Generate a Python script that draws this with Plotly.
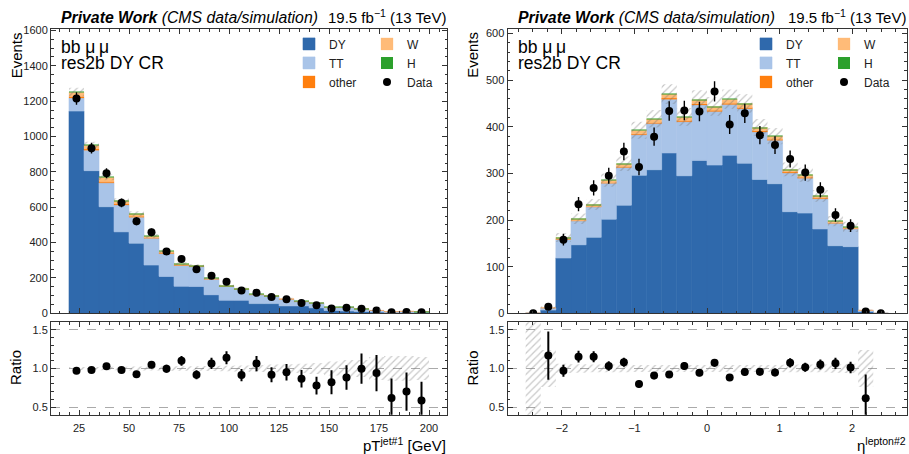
import numpy as np
import plotly.graph_objects as go

# ---------------- data: left panel (pT of leading jet) ----------------
pt_edges = [20, 27.5, 35, 42.5, 50, 57.5, 65, 72.5, 80, 87.5, 95, 102.5, 110,
            117.5, 125, 132.5, 140, 147.5, 155, 162.5, 170, 177.5, 185, 192.5, 200]
pt_DY = [1144, 807, 603, 461, 397, 273, 209, 153, 152, 105, 74, 74, 55, 55, 42, 42,
         31, 16, 13, 11, 7, 4.5, 5, 4.5]
pt_TT = [74, 116, 135, 152, 147, 152, 129, 118, 112, 88, 78, 62, 50, 42, 38, 24,
         26, 17, 20, 14, 9, 4.8, 6, 5.3]
pt_other = [8, 7, 8, 6, 5, 3, 3, 2, 2, 2, 1, 1, 1, 1, 1, 0.5, 0.5, 0.3, 0.3, 0.3,
            0.2, 0.1, 0.1, 0.1]
pt_W = [25, 21, 24, 18, 14, 9, 10, 7, 5, 4, 4, 4, 3, 2, 2, 1.5, 1.5, 0.7, 1.7, 0.7,
        0.8, 0.3, 0.3, 0.3]
pt_H = [0.3, 0.3, 0.3, 0.3, 0.3, 0.2, 0.2, 0.2, 0.1, 0.1, 0.1, 0.1, 0.1, 0.1, 0.05,
        0.05, 0.05, 0.05, 0.05, 0.05, 0.02, 0.02, 0.02, 0.02]
pt_data = [1215, 934, 792, 625, 521, 458, 350, 308, 249, 212, 179, 129, 116, 92, 79,
           59, 46, 28, 31, 26, 16, 6, 8, 6]
pt_unc = [0.02, 0.02, 0.022, 0.022, 0.025, 0.025, 0.028, 0.03, 0.03, 0.032, 0.035,
          0.04, 0.045, 0.05, 0.055, 0.06, 0.07, 0.09, 0.11, 0.11, 0.15, 0.16, 0.16, 0.15]

# ---------------- data: right panel (eta of second lepton) ----------------
eta_edges = [-2.5, -2.2917, -2.0833, -1.875, -1.6667, -1.4583, -1.25, -1.0417,
             -0.8333, -0.625, -0.4167, -0.2083, 0.0, 0.2083, 0.4167, 0.625, 0.8333,
             1.0417, 1.25, 1.4583, 1.6667, 1.875, 2.0833, 2.2917, 2.5]
eta_DY = [0.2, 7, 118.6, 147, 163, 202, 232, 296, 308, 344, 295, 328, 318, 339, 322,
          287, 278, 218, 215, 181, 145, 143, 4, 0]
eta_TT = [0.1, 4.6, 40, 51, 65, 77, 81, 87, 99, 115, 116, 119, 115, 109, 117, 102, 93,
          83, 75, 65, 48, 38, 2.3, 0]
eta_other = [0, 0.1, 1.0, 1.2, 1.4, 1.7, 1.9, 2.4, 2.5, 2.8, 2.5, 2.7, 2.7, 2.8, 2.7,
             2.4, 2.3, 1.9, 1.8, 1.5, 1.2, 1.1, 0.05, 0]
eta_W = [0, 0.3, 3.0, 3.7, 4.2, 5.1, 5.8, 7.1, 7.5, 8.5, 7.6, 8.2, 8.0, 8.3, 8.1, 7.2,
         6.9, 5.6, 5.3, 4.5, 3.6, 3.3, 0.15, 0]
eta_H = [0, 0, 0.05, 0.05, 0.05, 0.08, 0.08, 0.1, 0.1, 0.1, 0.1, 0.1, 0.1, 0.1, 0.1,
         0.1, 0.08, 0.08, 0.08, 0.05, 0.05, 0.05, 0, 0]
eta_data = [0, 14, 158, 234, 269, 295, 347, 314, 379, 434, 435, 433, 476, 405, 429,
            382, 361, 331, 302, 265, 211, 188, 4, 0]
eta_unc = [3.0, 0.24, 0.06, 0.055, 0.05, 0.05, 0.048, 0.046, 0.045, 0.045, 0.045,
           0.045, 0.045, 0.045, 0.045, 0.045, 0.046, 0.048, 0.05, 0.05, 0.055, 0.06,
           0.24, 0.0]

proc_names = ["DY", "TT", "other", "W", "H"]
proc_colors = {"DY": "#2f69ac", "TT": "#a9c4e8", "other": "#ff7f0e",
               "W": "#ffbb78", "H": "#2ca02c"}
proc_legend_col = {"DY": 0, "TT": 0, "other": 0, "W": 1, "H": 1}
proc_edge = {"DY": 0.6, "TT": 0.6, "other": 0.3, "W": 0.3, "H": 0}

FONT = "Liberation Sans, Arial, Helvetica, sans-serif"
W, H = 909, 454


def px_x(p):
    return p / W


def px_y(p):
    return 1 - p / H


HATCH_TOP = dict(shape="/", fgcolor="rgba(110,110,110,0.8)", bgcolor="rgba(0,0,0,0)",
                 size=5, solidity=0.22, fillmode="overlay")
HATCH_RAT = dict(shape="/", fgcolor="rgba(120,120,120,0.8)", bgcolor="rgba(0,0,0,0)",
                 size=5, solidity=0.25, fillmode="overlay")

fig = go.Figure()


def add_panel(edges, comps, data, unc, xa_main, ya_main, xa_rat, ya_rat, legs):
    edges = np.asarray(edges, float)
    centers = 0.5 * (edges[1:] + edges[:-1])
    widths = edges[1:] - edges[:-1]
    base = np.zeros(len(centers))
    for name in proc_names:
        vals = np.asarray(comps[name], float)
        fig.add_trace(go.Bar(
            x=centers, y=vals, base=base.copy(), width=widths, name=name,
            marker=dict(color=proc_colors[name],
                        line=dict(width=proc_edge[name], color=proc_colors[name])),
            xaxis=xa_main, yaxis=ya_main, legend=legs[proc_legend_col[name]],
            hoverinfo="skip"))
        base = base + vals
    mc = base
    unc = np.asarray(unc, float)
    # MC uncertainty band (top)
    fig.add_trace(go.Bar(
        x=centers, y=2 * unc * mc, base=mc * (1 - unc), width=widths,
        marker=dict(color="rgba(200,200,200,0.3)", line=dict(width=0), pattern=HATCH_TOP),
        xaxis=xa_main, yaxis=ya_main, showlegend=False, hoverinfo="skip"))
    data = np.asarray(data, float)
    fig.add_trace(go.Scatter(
        x=centers, y=data, mode="markers", name="Data",
        marker=dict(color="black", size=8),
        error_y=dict(type="data", array=np.sqrt(data), color="black",
                     thickness=1.4, width=0),
        xaxis=xa_main, yaxis=ya_main, legend=legs[1], cliponaxis=True))
    # ratio panel
    ok_mc = mc > 0
    band_lo = np.where(ok_mc, 1 - unc, np.nan)
    band_h = np.where(ok_mc, 2 * unc, np.nan)
    fig.add_trace(go.Bar(
        x=centers, y=band_h, base=band_lo, width=widths,
        marker=dict(color="rgba(195,195,195,0.6)", line=dict(width=0), pattern=HATCH_RAT),
        xaxis=xa_rat, yaxis=ya_rat, showlegend=False, hoverinfo="skip"))
    ok = ok_mc & (data > 0)
    safe_mc = np.where(ok_mc, mc, 1.0)
    ratio = np.where(ok, data / safe_mc, np.nan)
    rerr = np.where(ok, np.sqrt(data) / safe_mc, np.nan)
    fig.add_trace(go.Scatter(
        x=centers, y=ratio, mode="markers", showlegend=False,
        marker=dict(color="black", size=8),
        error_y=dict(type="data", array=rerr, color="black", thickness=2, width=0),
        xaxis=xa_rat, yaxis=ya_rat))


add_panel(pt_edges, {"DY": pt_DY, "TT": pt_TT, "other": pt_other, "W": pt_W, "H": pt_H},
          pt_data, pt_unc, "x", "y", "x2", "y2", ["legend", "legend2"])
add_panel(eta_edges, {"DY": eta_DY, "TT": eta_TT, "other": eta_other, "W": eta_W,
                      "H": eta_H},
          eta_data, eta_unc, "x3", "y3", "x4", "y4", ["legend3", "legend4"])

AX = dict(showline=True, linecolor="#333", linewidth=1, mirror="allticks",
          ticks="inside", ticklen=5, tickcolor="#333", tickwidth=1,
          tickfont=dict(family=FONT, size=11, color="#222"), zeroline=False,
          showgrid=False)

xdom_l = [px_x(51), px_x(447)]
xdom_r = [px_x(507.5), px_x(906.5)]
ydom_main = [px_y(316), px_y(25)]
ydom_rat = [px_y(420), px_y(325)]


def minor(d):
    return dict(ticks="inside", ticklen=2.5, tickcolor="#333", dtick=d, showgrid=False)


layout = dict(
    width=W, height=H, margin=dict(l=0, r=0, t=0, b=0),
    paper_bgcolor="white", plot_bgcolor="white", barmode="overlay",
    font=dict(family=FONT, color="#222"),
    xaxis=dict(AX, domain=xdom_l, anchor="y", range=[11, 209], dtick=25, tick0=0,
               showticklabels=False, minor=minor(5), matches="x2"),
    yaxis=dict(AX, domain=ydom_main, anchor="x", range=[0, 1606], dtick=200, tick0=0,
               minor=minor(50)),
    xaxis2=dict(AX, domain=xdom_l, anchor="y2", range=[11, 209], dtick=25, tick0=0,
                minor=minor(5), ticklabelstandoff=3),
    yaxis2=dict(AX, domain=ydom_rat, anchor="x2", range=[0.4, 1.6], dtick=0.5, tick0=0,
                tickformat=".1f", showgrid=True, gridcolor="#aaa", griddash="dash",
                gridwidth=0.8, minor=minor(0.1)),
    xaxis3=dict(AX, domain=xdom_r, anchor="y3", range=[-2.75, 2.75], dtick=1, tick0=0,
                showticklabels=False, minor=minor(0.2), matches="x4"),
    yaxis3=dict(AX, domain=ydom_main, anchor="x3", range=[0, 609], dtick=100, tick0=0,
                minor=minor(20)),
    xaxis4=dict(AX, domain=xdom_r, anchor="y4", range=[-2.75, 2.75], dtick=1, tick0=0,
                minor=minor(0.2), ticklabelstandoff=3),
    yaxis4=dict(AX, domain=ydom_rat, anchor="x4", range=[0.4, 1.6], dtick=0.5, tick0=0,
                tickformat=".1f", showgrid=True, gridcolor="#aaa", griddash="dash",
                gridwidth=0.8, minor=minor(0.1)),
)

LEG = dict(orientation="v", bgcolor="rgba(0,0,0,0)", borderwidth=0, itemwidth=30,
           tracegroupgap=0, font=dict(family=FONT, size=12, color="#222"),
           xanchor="left", yanchor="top", itemclick=False, itemdoubleclick=False)
layout["legend"] = dict(LEG, x=px_x(289), y=px_y(25))
layout["legend2"] = dict(LEG, x=px_x(367), y=px_y(25))
layout["legend3"] = dict(LEG, x=px_x(746), y=px_y(25))
layout["legend4"] = dict(LEG, x=px_x(824), y=px_y(25))
fig.update_layout(**layout)

anns = []
for (xl, xr, xtitle) in [(51, 447, "pT<sup>jet#1</sup> [GeV]"),
                         (507.5, 906.5, "η<sup>lepton#2</sup>")]:
    anns.append(dict(x=px_x(xl + 8), y=px_y(24), xref="paper", yref="paper",
                     xanchor="left", yanchor="bottom", showarrow=False,
                     text="<b><i>Private Work</i></b> <i>(CMS data/simulation)</i>",
                     font=dict(family=FONT, size=15.8, color="black")))
    anns.append(dict(x=px_x(xr + 1), y=px_y(24), xref="paper", yref="paper",
                     xanchor="right", yanchor="bottom", showarrow=False,
                     text="19.5 fb<sup>−1</sup> (13 TeV)",
                     font=dict(family=FONT, size=15, color="black")))
    anns.append(dict(x=px_x(xl + 8), y=px_y(43), xref="paper", yref="paper",
                     xanchor="left", yanchor="middle", showarrow=False,
                     text="bb μ\u2009μ", font=dict(family=FONT, size=17.5, color="black")))
    anns.append(dict(x=px_x(xl + 8), y=px_y(59), xref="paper", yref="paper",
                     xanchor="left", yanchor="middle", showarrow=False,
                     text="res2b DY CR", font=dict(family=FONT, size=17.5, color="black")))
    anns.append(dict(x=px_x(xr + 1), y=px_y(462), xref="paper", yref="paper",
                     xanchor="right", yanchor="bottom", showarrow=False,
                     text=xtitle, font=dict(family=FONT, size=15, color="black")))
    anns.append(dict(x=px_x(xl - 35), y=px_y(26), xref="paper", yref="paper",
                     xanchor="center", yanchor="top", showarrow=False, textangle=-90,
                     text="Events", font=dict(family=FONT, size=15, color="black")))
    anns.append(dict(x=px_x(xl - 35), y=px_y(372), xref="paper", yref="paper",
                     xanchor="center", yanchor="middle", showarrow=False, textangle=-90,
                     text="Ratio", font=dict(family=FONT, size=15, color="black")))
fig.update_layout(annotations=anns)

fig.write_html("out.html")
